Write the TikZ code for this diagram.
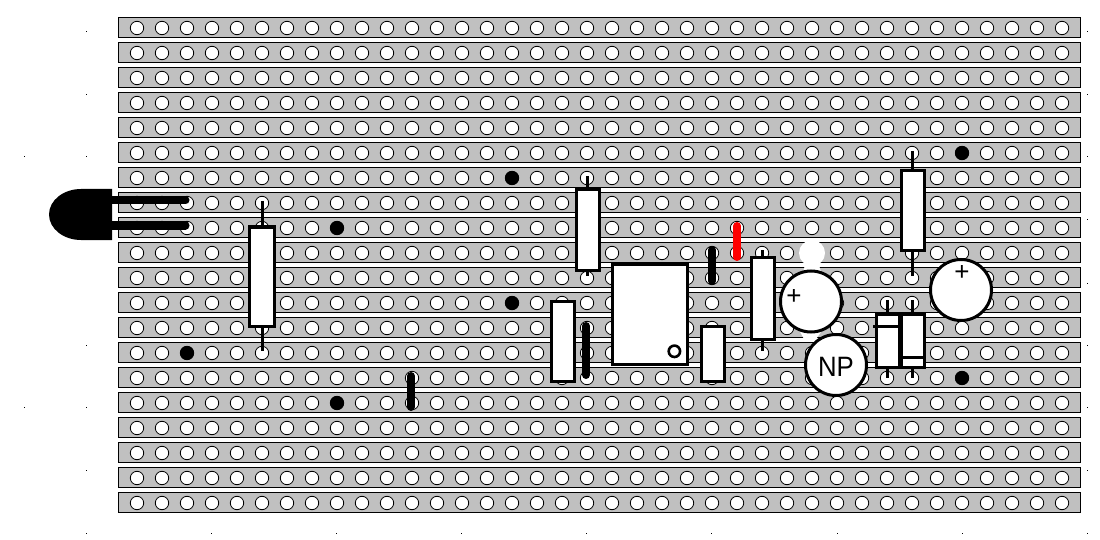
\documentclass[tikz,border=0pt]{standalone}
\usepackage{fontspec}
\setmainfont{Liberation Sans}
\definecolor{stripgray}{RGB}{192,192,192}
\definecolor{wirered}{RGB}{255,0,0}
\tikzset{
  strip/.style={draw=black,line width=1.2pt,fill=stripgray},
  hole/.style={draw=black,line width=0.8pt,fill=white},
  solder/.style={fill=black},
  part/.style={draw=black,line width=3pt,fill=white,line join=miter},
  lead/.style={draw=black,line width=3pt},
  link/.style={draw=black,line width=8pt,line cap=round},
  redlink/.style={draw=wirered,line width=8pt,line cap=round},
  capbody/.style={draw=black,line width=3pt,fill=white},
  bandmark/.style={draw=black,line width=3pt},
  speck/.style={fill=black},
  capsign/.style={inner sep=0pt,font=\fontsize{26}{26}\selectfont}
}
\begin{document}
\begin{tikzpicture}[x=1pt,y=-1pt]
\useasboundingbox (0,0) rectangle (1100,540);
\fill[white] (0,0) rectangle (1100,540);
% strips
\foreach \j in {0,...,19}{
  \draw[strip] (118.5,{17.5+25*\j}) rectangle (1080.5,{37.5+25*\j});
  \foreach \i in {0,...,37}{
    \draw[hole] ({137+25*\i},{28+25*\j}) circle (6.7);
  }
}
% registration specks
\foreach \x/\y in {86/32,86/95,86/157,24/157,86/345,86/407,24/407,86/470,86/533,211/533,336/533,461/533,586/533,711/533,837/533,962/533,1087/533,1087/32,1087/95,1087/157,1087/220,1087/283,1087/345,1087/407,1087/470}{
  \fill[speck] (\x-0.5,\y-0.5) rectangle (\x+0.5,\y+0.5);
}
% solder points
\foreach \x/\y in {962/153,512/178,337/228,512/303,187/353,337/403,962/378}{
  \fill[solder] (\x,\y) circle (7);
}
% transistor
\fill[black] (112,189) -- (81,189) arc[start angle=270,end angle=90,x radius=32,y radius=25.5] -- (112,240) -- cycle;
\draw[link] (112,200.5) -- (185.5,200.5);
\draw[link] (112,225.5) -- (185.5,225.5);
% resistors
\draw[lead] (262,201) -- (262,351);
\draw[part] (249.5,227) rectangle (274,326);
\draw[lead] (587,176) -- (587,276);
\draw[part] (576.5,189.5) rectangle (599.5,270.5);
\draw[part] (551.5,301.5) rectangle (574.5,381.5);
\draw[lead] (762,250) -- (762,351);
\draw[part] (751.5,257.5) rectangle (774.5,339.5);
\draw[lead] (912,151) -- (912,276);
\draw[part] (901.5,170.5) rectangle (924.5,250.5);
% links
\draw[link] (586,326) -- (586,375);
\draw[link] (712,250) -- (712,281);
\draw[redlink] (737,226) -- (737,257);
\draw[link] (411,376) -- (411,407);
% IC
\draw[part] (612.5,264.5) rectangle (687.5,364.5);
\draw[draw=black,line width=2.6pt,fill=white] (674.4,351.3) circle (5.7);
% small box
\draw[part] (701.5,326.5) rectangle (724.5,381.5);
% capacitors
\fill[white] (812,253) circle (13);
\fill[white] (806,262) -- (818,262) -- (822,275) -- (802,275) -- cycle;
\fill[white] (798,328) -- (824,328) -- (816,339) -- (804,339) -- cycle;
\draw[capbody] (811,301.5) circle (30.5);
\node[capsign] (plusa) at (794,297) {+};
\draw[capbody] (836,365) circle (30.5);
\node[inner sep=0pt,xscale=0.92] (np) at (836,367) {\fontsize{28}{28}\selectfont NP};
\draw[capbody] (961,290) circle (30.5);
\node[capsign] (plusb) at (962,273) {+};
% diodes
\draw[lead] (887,300) -- (887,378);
\draw[part] (876.5,314) rectangle (899.5,367.5);
\draw[bandmark] (873,326) -- (899.5,326);
\draw[lead] (912,300) -- (912,378);
\draw[part] (901.5,314) rectangle (924.5,367.5);
\draw[bandmark] (901.5,357) -- (924.5,357);
\end{tikzpicture}
\end{document}
